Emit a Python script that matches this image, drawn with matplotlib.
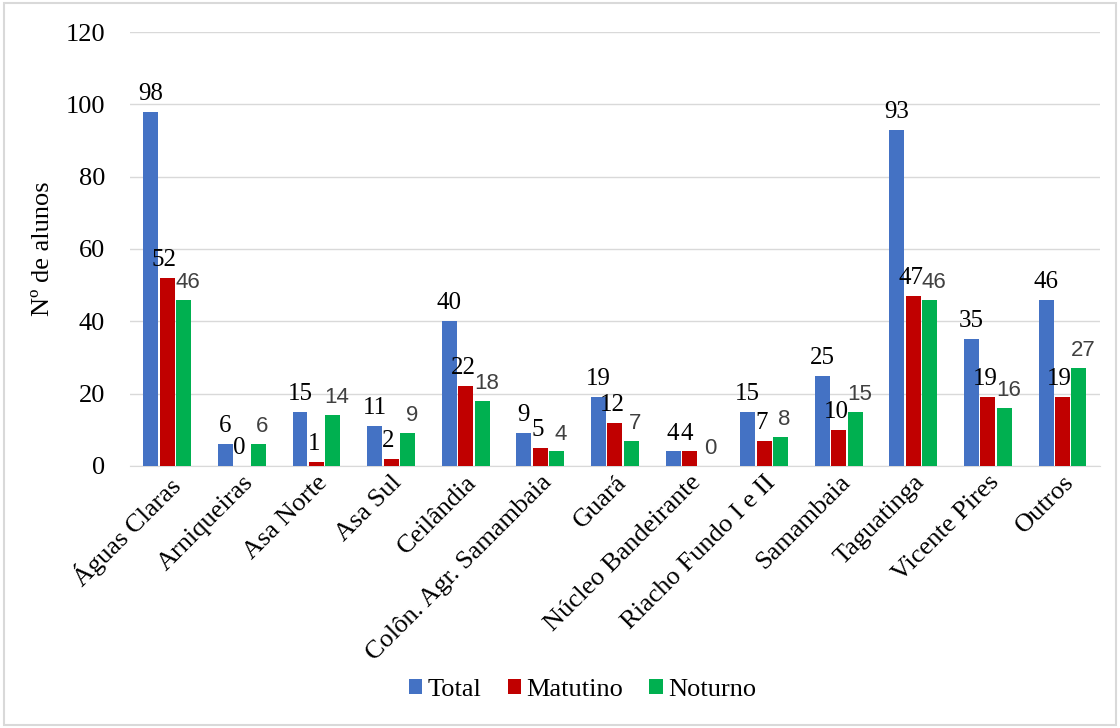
import matplotlib.pyplot as plt
import numpy as np

categorias = ['Águas Claras', 'Arniqueiras', 'Asa Norte', 'Asa Sul', 'Ceilândia',
              'Colôn. Agr. Samambaia', 'Guará', 'Núcleo Bandeirante',
              'Riacho Fundo I e II', 'Samambaia', 'Taguatinga', 'Vicente Pires', 'Outros']
total = [98, 6, 15, 11, 40, 9, 19, 4, 15, 25, 93, 35, 46]
matutino = [52, 0, 1, 2, 22, 5, 12, 4, 7, 10, 47, 19, 19]
noturno = [46, 6, 14, 9, 18, 4, 7, 0, 8, 15, 46, 16, 27]

plt.rcParams['font.family'] = ['Liberation Serif', 'DejaVu Serif']

fig = plt.figure(figsize=(11.2, 7.28), dpi=100)
ax = fig.add_axes([0.116, 0.36, 0.866, 0.596])

x = np.arange(len(categorias))
w = 0.2
step = 0.22
series = [(total, '#4472C4', 'Total', 'black', 'Liberation Serif', 18, 0),
          (matutino, '#C00000', 'Matutino', 'black', 'Liberation Serif', 18, -2),
          (noturno, '#00B050', 'Noturno', '#404040', 'Liberation Sans', 16, 3)]
for i, (vals, cor, nome, cor_txt, fonte, fs, dx) in enumerate(series):
    pos = x + (i - 1) * step
    ax.bar(pos, vals, w, color=cor, label=nome, zorder=3)
    for p, v in zip(pos, vals):
        ax.annotate(str(v), (p, v), xytext=(dx, 5), textcoords='offset points',
                    ha='center', va='bottom', fontsize=fs,
                    color=cor_txt, family=fonte, zorder=4)

ax.set_xlim(-0.5, len(categorias) - 0.5)
ax.set_ylim(0, 120)
ax.set_yticks(range(0, 121, 20))
ax.tick_params(axis='y', labelsize=19, length=0, pad=18)
ax.tick_params(axis='x', labelsize=19, length=0, pad=4)
ax.set_xticks(x)
ax.set_xticklabels(categorias, rotation=45, ha='right', rotation_mode='anchor')
ax.grid(axis='y', color='#D9D9D9', lw=1, zorder=0)
for s in ['top', 'right', 'left']:
    ax.spines[s].set_visible(False)
ax.spines['bottom'].set_color('#D9D9D9')
ax.set_ylabel('Nº de alunos', fontsize=19, labelpad=8)

fig.legend(loc='center', bbox_to_anchor=(0.52, 0.052), ncol=3, frameon=False,
           fontsize=19, handlelength=0.5, handleheight=0.5, handletextpad=0.2,
           columnspacing=1.0)

fig.patches.append(plt.Rectangle((0.004, 0.004), 0.992, 0.992, transform=fig.transFigure,
                                 fill=False, edgecolor='#D9D9D9', lw=1.5))

fig.savefig('out.png', dpi=100)
